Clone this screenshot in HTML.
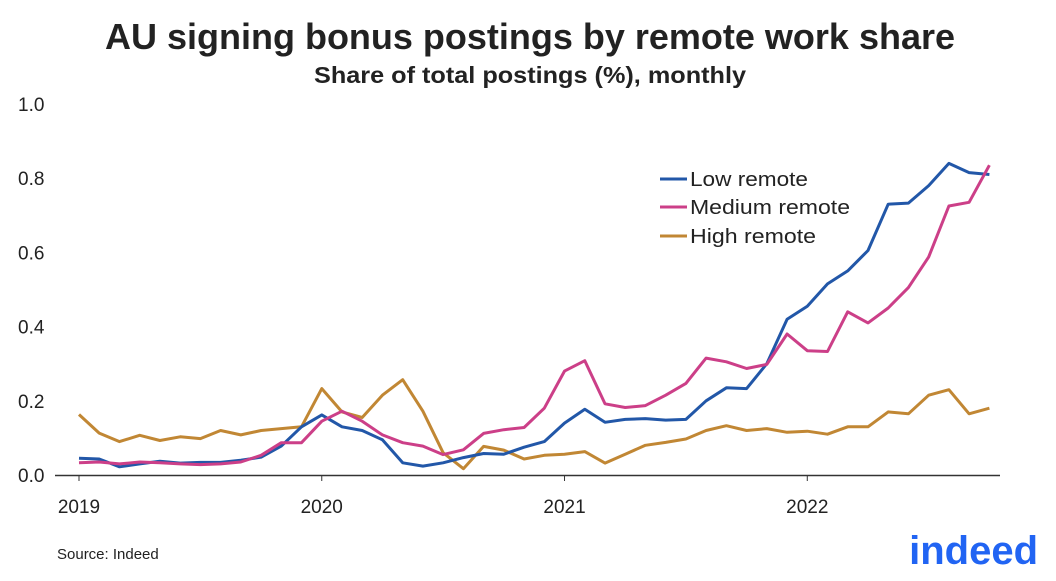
<!DOCTYPE html>
<html><head><meta charset="utf-8"><style>
body{margin:0;background:#fff;width:1056px;height:576px;overflow:hidden;font-family:"Liberation Sans",sans-serif}
</style></head><body>
<svg id="chart" width="1056" height="576" xmlns="http://www.w3.org/2000/svg">
<text x="530" y="49" text-anchor="middle" font-size="36" font-weight="bold" fill="#222" textLength="850" lengthAdjust="spacingAndGlyphs">AU signing bonus postings by remote work share</text>
<text x="530" y="83" text-anchor="middle" font-size="23" font-weight="bold" fill="#222" textLength="432" lengthAdjust="spacingAndGlyphs">Share of total postings (%), monthly</text>
<g id="yaxis"></g>
<g id="xaxis"></g>
<line x1="55" y1="475.5" x2="1000" y2="475.5" stroke="#333" stroke-width="1.5"/>
<g id="series"></g>
<g>
<line x1="660" y1="179" x2="687" y2="179" stroke="#2257a8" stroke-width="3"/>
<text x="690" y="186" font-size="20" fill="#222" textLength="118" lengthAdjust="spacingAndGlyphs">Low remote</text>
<line x1="660" y1="207" x2="687" y2="207" stroke="#cc3f88" stroke-width="3"/>
<text x="690" y="214" font-size="20" fill="#222" textLength="160" lengthAdjust="spacingAndGlyphs">Medium remote</text>
<line x1="660" y1="236" x2="687" y2="236" stroke="#c18734" stroke-width="3"/>
<text x="690" y="243" font-size="20" fill="#222" textLength="126" lengthAdjust="spacingAndGlyphs">High remote</text>
</g>
<text x="57" y="559" font-size="15" fill="#222">Source: Indeed</text>
<text x="1038" y="564" text-anchor="end" font-size="40" font-weight="bold" fill="#2164f3">indeed</text>
</svg>
<script>
const yTicks=[0,0.2,0.4,0.6,0.8,1.0];
const yTickLabels=["0.0","0.2","0.4","0.6","0.8","1.0"];
const xTickYears=["2019","2020","2021","2022"];
const lowRemote=[0.045,0.043,0.022,0.03,0.037,0.032,0.034,0.034,0.04,0.048,0.078,0.13,0.162,0.13,0.12,0.095,0.033,0.024,0.033,0.047,0.058,0.056,0.075,0.09,0.14,0.177,0.142,0.15,0.152,0.148,0.15,0.2,0.235,0.233,0.3,0.42,0.455,0.515,0.55,0.605,0.73,0.733,0.78,0.84,0.815,0.81];
const mediumRemote=[0.033,0.035,0.03,0.035,0.033,0.03,0.028,0.03,0.035,0.053,0.087,0.087,0.145,0.172,0.145,0.108,0.087,0.078,0.055,0.068,0.112,0.122,0.128,0.18,0.28,0.308,0.192,0.182,0.187,0.215,0.247,0.315,0.305,0.287,0.298,0.38,0.335,0.333,0.44,0.41,0.45,0.505,0.588,0.725,0.735,0.835];
const highRemote=[0.163,0.113,0.09,0.107,0.093,0.103,0.098,0.12,0.108,0.12,0.125,0.13,0.233,0.17,0.155,0.215,0.257,0.172,0.06,0.017,0.077,0.067,0.043,0.053,0.056,0.063,0.032,0.056,0.08,0.088,0.097,0.12,0.133,0.12,0.125,0.115,0.118,0.11,0.13,0.13,0.17,0.165,0.215,0.23,0.165,0.18];
const NS="http://www.w3.org/2000/svg";
const xs=i=>79+i*20.23;
const ys=v=>475-v*371;
const yg=document.getElementById('yaxis');
yTicks.forEach((t,i)=>{const e=document.createElementNS(NS,'text');


e.setAttribute('x',18);e.setAttribute('y',ys(t)+7);e.setAttribute('font-size','19');e.setAttribute('fill','#222');e.textContent=yTickLabels[i];yg.appendChild(e);});
const xg=document.getElementById('xaxis');
xTickYears.forEach((t,i)=>{const e=document.createElementNS(NS,'text');


e.setAttribute('x',xs(i*12));e.setAttribute('y',513);e.setAttribute('text-anchor','middle');e.setAttribute('font-size','19');e.setAttribute('fill','#222');e.textContent=t;xg.appendChild(e);
const l=document.createElementNS(NS,'line');


l.setAttribute('x1',xs(i*12));l.setAttribute('x2',xs(i*12));l.setAttribute('y1',475);l.setAttribute('y2',481);l.setAttribute('stroke','#333');xg.appendChild(l);});
const sg=document.getElementById('series');
[[highRemote,'#c18734','line-high-remote'],[lowRemote,'#2257a8','line-low-remote'],[mediumRemote,'#cc3f88','line-medium-remote']].forEach(([d,c,n])=>{
const p=document.createElementNS(NS,'polyline');


p.setAttribute('points',d.map((v,i)=>xs(i).toFixed(1)+','+ys(v).toFixed(1)).join(' '));
p.setAttribute('fill','none');p.setAttribute('stroke',c);p.setAttribute('stroke-width','3');p.setAttribute('stroke-linejoin','round');sg.appendChild(p);});
</script>
</body></html>
